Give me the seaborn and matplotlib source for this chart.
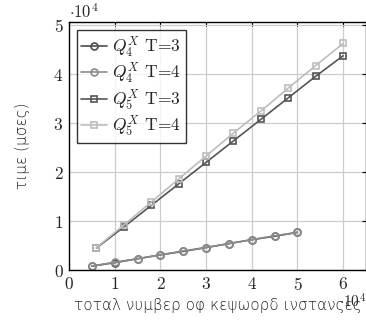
import matplotlib
matplotlib.use("Agg")
import matplotlib.pyplot as plt
import seaborn as sns
import pandas as pd

# values in units of 10^4
x_q4 = [0.5, 1.0, 1.5, 2.0, 2.5, 3.0, 3.5, 4.0, 4.5, 5.0]
y_q4_t3 = [0.08, 0.15, 0.23, 0.31, 0.38, 0.46, 0.54, 0.62, 0.69, 0.77]
y_q4_t4 = [0.08, 0.16, 0.23, 0.31, 0.39, 0.46, 0.54, 0.62, 0.70, 0.77]
x_q5 = [0.6, 1.2, 1.8, 2.4, 3.0, 3.6, 4.2, 4.8, 5.4, 6.0]
y_q5_t3 = [0.45, 0.88, 1.32, 1.76, 2.20, 2.64, 3.08, 3.52, 3.96, 4.38]
y_q5_t4 = [0.46, 0.92, 1.39, 1.86, 2.33, 2.80, 3.25, 3.72, 4.18, 4.63]

labels = [r"$Q_4^X$ T=3", r"$Q_4^X$ T=4", r"$Q_5^X$ T=3", r"$Q_5^X$ T=4"]
xs = [x_q4, x_q4, x_q5, x_q5]
ys = [y_q4_t3, y_q4_t4, y_q5_t3, y_q5_t4]
markers = ["o", "o", "s", "s"]
colors = ["#4d4d4d", "#8c8c8c", "#555555", "#bdbdbd"]

sns.set_style("whitegrid")
plt.rcParams["font.family"] = ["cmr10", "DejaVu Serif"]
plt.rcParams["mathtext.fontset"] = "cm"
plt.rcParams["axes.formatter.use_mathtext"] = True

fig = plt.figure(figsize=(3.66, 3.23), dpi=100)
ax = fig.add_axes([0.1885, 0.164, 0.8115, 0.768])

for x, y, lab, m, c in zip(xs, ys, labels, markers, colors):
    df = pd.DataFrame({"x": x, "y": y})
    sns.lineplot(data=df, x="x", y="y", ax=ax, color=c, marker=m,
                 markersize=5, markerfacecolor="none", markeredgecolor=c,
                 markeredgewidth=1.2, linewidth=1.2, label=lab)

ax.set_xlim(0, 6.5)
ax.set_ylim(0, 5.07)
ax.set_xticks([0, 1, 2, 3, 4, 5, 6])
ax.set_yticks([0, 1, 2, 3, 4, 5])
ax.grid(True, color="#cccccc", linewidth=0.9)
for s in ax.spines.values():
    s.set_color("black")
    s.set_linewidth(1.0)
ax.tick_params(direction="in", top=True, right=True, length=3, labelsize=12.5,
               color="black", pad=4)

ax.set_xlabel("τοταλ νυμβερ οφ κεψωορδ ινστανςες", family=["DejaVu Sans"],
              fontsize=11, labelpad=4, fontweight="light")
ax.set_ylabel("τιμε (μσες)", family=["DejaVu Sans"], fontsize=11, labelpad=17,
              fontweight="light")

ax.text(0.0, 1.005, r"$\cdot 10^4$", transform=ax.transAxes, ha="left",
        va="bottom", fontsize=12)
ax.text(1.0, -0.09, r"$\cdot 10^4$", transform=ax.transAxes, ha="right",
        va="top", fontsize=11)

leg = ax.legend(loc="upper left", fontsize=12.5, frameon=True, fancybox=False,
                borderpad=0.25, labelspacing=0.1, handlelength=1.5,
                handletextpad=0.3, borderaxespad=0.45)
leg.get_frame().set_edgecolor("black")
leg.get_frame().set_linewidth(1.0)

fig.savefig("out.png", dpi=100)
